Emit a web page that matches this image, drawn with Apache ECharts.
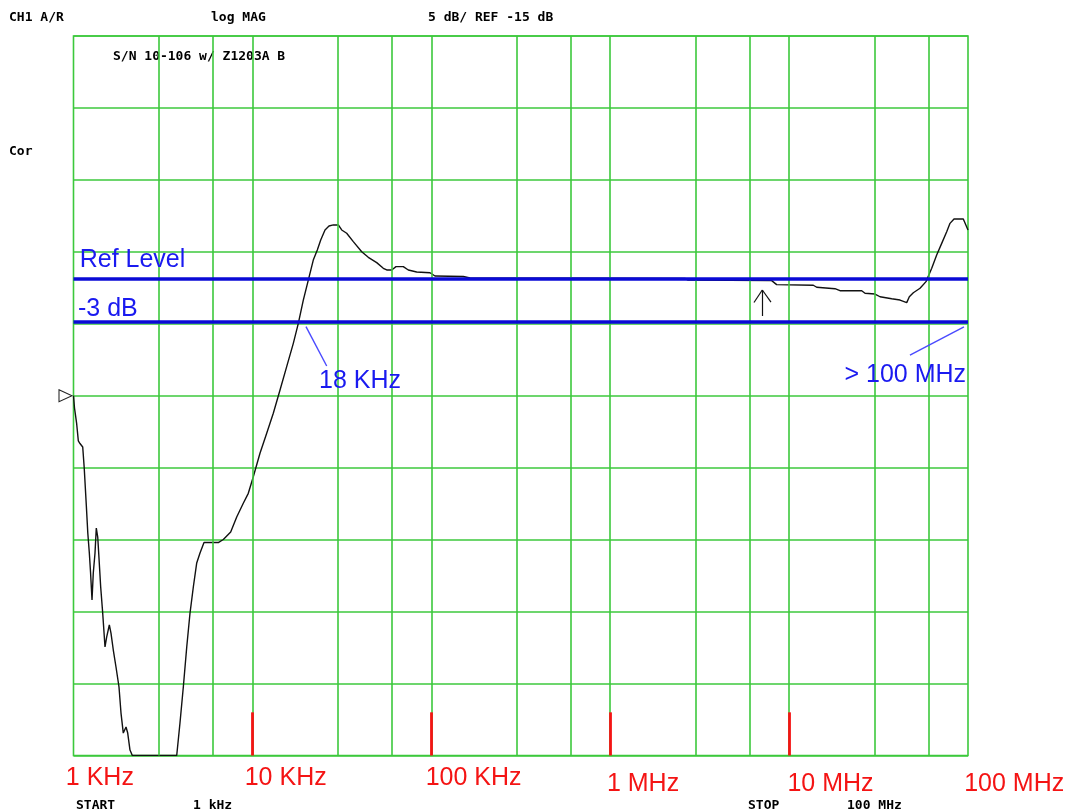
<!DOCTYPE html>
<html>
<head>
<meta charset="utf-8">
<script src="https://cdn.jsdelivr.net/npm/echarts@6/dist/echarts.min.js"></script>
<style>
html,body{margin:0;padding:0;background:#fff;}
#chart{width:1071px;height:812px;}
</style>
</head>
<body>
<div id="chart"></div>
<script>
// ---- data ----
const traceFreqHz = [1000,1013,1042,1064,1087,1126,1148,1179,1202,1226,1245,1269,1290,1319,1341,1366,1383,1419,1456,1500,1533,1586,1620,1669,1728,1796,1843,1898,1966,2009,2069,2132,3775,3937,4110,4295,4480,4675,4884,5095,5364,6448,6876,7562,8172,8893,9486,10116,11026,12021,13087,14269,15547,16932,18058,19256,20535,21894,23054,24093,25460,26803,28330,30216,31565,33660,36644,40832,44445,49528,53918,56330,60080,63489,69745,74378,82860,98330,104880,151000,164600,2618000,2722000,7991000,8520000,13655000,14266000,18050000,19250000,25460000,26570000,30210000,32220000,37460000,41690000,45450000,46990000,49470000,53930000,58250000,62690000,66830000,71290000,76020000,79330000,83510000,94130000,100000000];
const traceDb = [-15.0,-15.85,-16.96,-18.14,-18.32,-18.56,-20.02,-22.59,-24.54,-25.93,-27.25,-29.19,-27.32,-25.93,-24.19,-24.82,-25.93,-28.29,-30.10,-32.46,-31.76,-30.93,-31.49,-32.67,-33.85,-35.24,-37.05,-38.44,-38.02,-38.44,-39.62,-40,-40,-37.74,-35.24,-32.46,-30.10,-28.29,-26.62,-25.93,-25.20,-25.20,-24.99,-24.47,-23.43,-22.47,-21.78,-20.63,-19.0,-17.61,-16.22,-14.60,-12.98,-11.36,-9.97,-8.35,-6.96,-5.57,-4.87,-4.18,-3.48,-3.20,-3.13,-3.13,-3.48,-3.71,-4.29,-4.99,-5.38,-5.75,-6.14,-6.26,-6.26,-6.03,-6.03,-6.26,-6.40,-6.45,-6.68,-6.71,-6.82,-6.85,-6.96,-7.0,-7.28,-7.32,-7.46,-7.56,-7.70,-7.70,-7.88,-7.93,-8.12,-8.26,-8.35,-8.53,-8.12,-7.84,-7.53,-7.07,-6.14,-5.22,-4.41,-3.60,-3.02,-2.72,-2.72,-3.48];

const yMin = -40, yMax = 10, yStep = 5;
const refDb = -15;
const refLevelDb = -6.84;
const minus3Db = -9.87;
const gridFreqs = [3e3,6e3,1e4,3e4,6e4,1e5,3e5,6e5,1e6,3e6,6e6,1e7,3e7,6e7];
const decadeFreqs = [1e3,1e4,1e5,1e6,1e7,1e8];
const decadeLabels = ['1 KHz','10 KHz','100 KHz','1 MHz','10 MHz','100 MHz'];
const redTickFreqs = [1e4,1e5,1e6,1e7];
const redTickTopDb = -37;

const noteTexts = ['Ref Level','-3 dB','18 KHz','> 100 MHz'];
const noteFreqs = [1083,1060,23560,20400000];
const noteDb = [-5.60,-8.97,-13.96,-13.58];
const pointer18k = [[19930,-10.20],[26020,-12.93]];
const pointer100M = [[47380000,-12.17],[94940000,-10.22]];
const markerArrowFreq = 7083000;
const markerArrowDb = [-9.46,-7.65];
const markerArrowHead = [[6364000,-8.52],[7920000,-8.49]];

// ---- layout/style (not data) ----
const GREEN = '#3cc83c';
const BLUE_LINE = '#0a0ad6';
const BLUE_TEXT = '#1a1af0';
const RED = '#f41414';
const labelDx = [-7.7,-7.7,-5.6,-3.3,-1.7,-3.8];
const labelDy = [22.8,22.8,22.8,28.8,28.8,28.8];
const monoFont = 'bold 13px "DejaVu Sans Mono", monospace';

const chart = echarts.init(document.getElementById('chart'), null, {renderer:'canvas'});

const lineMark = (color, width) => ({silent:true, symbol:['none','none'], label:{show:false}, lineStyle:{color, width, type:'solid', opacity:1}, emphasis:{disabled:true}, animation:false});
const hdr = (x, y, text) => ({type:'text', x, y, style:{text, font:monoFont, fill:'#000', textVerticalAlign:'middle', verticalAlign:'middle'}});

const option = {
  animation:false,
  backgroundColor:'#ffffff',
  grid:{left:73.5, right:103, top:36, bottom:56.5, show:true, borderColor:GREEN, borderWidth:1.6, backgroundColor:'transparent'},
  xAxis:{type:'log', logBase:10, min:1e3, max:1e8, axisLine:{show:false}, axisTick:{show:false}, axisLabel:{show:false}, splitLine:{show:false}},
  yAxis:{type:'value', min:yMin, max:yMax, interval:yStep, axisLine:{show:false}, axisTick:{show:false}, axisLabel:{show:false}, splitLine:{show:true, lineStyle:{color:GREEN, width:1.6}}},
  graphic:[
    hdr(9,18,'CH1 A/R'), hdr(211,18,'log MAG'), hdr(428,18,'5 dB/ REF -15 dB'),
    hdr(113,57,'S/N 10-106 w/ Z1203A B'), hdr(9,152,'Cor'),
    hdr(76,806,'START'), hdr(193,806,'1 kHz'), hdr(748,806,'STOP'), hdr(847,806,'100 MHz')
  ],
  series:[
    { // vertical grid lines
      type:'line', data:[], z:1, silent:true,
      markLine:Object.assign(lineMark(GREEN,1.6), {data:gridFreqs.map(f=>({xAxis:f}))})
    },
    { // red decade ticks
      type:'line', data:[], z:2, silent:true,
      markLine:Object.assign(lineMark(RED,2.8), {data:redTickFreqs.map(f=>[{coord:[f,yMin]},{coord:[f,redTickTopDb]}])})
    },
    { // measured trace
      type:'line', name:'trace', z:3, silent:true,
      data:traceFreqHz.map((f,i)=>[f,traceDb[i]]),
      showSymbol:false, symbol:'none', smooth:false,
      lineStyle:{color:'#111', width:1.4, opacity:1},
      markPoint:{silent:true, animation:false, symbol:'path://M0,0 L13,6 L0,12 Z', symbolSize:[13,12], symbolOffset:[-8,0],
        itemStyle:{color:'#ffffff', borderColor:'#222', borderWidth:1, opacity:1}, label:{show:false},
        data:[{coord:[1e3,refDb]}]}
    },
    { // marker arrow
      type:'line', data:[], z:4, silent:true,
      markLine:Object.assign(lineMark('#111',1.2), {data:[
        [{coord:[markerArrowFreq,markerArrowDb[0]]},{coord:[markerArrowFreq,markerArrowDb[1]]}],
        [{coord:[markerArrowFreq,markerArrowDb[1]]},{coord:markerArrowHead[0]}],
        [{coord:[markerArrowFreq,markerArrowDb[1]]},{coord:markerArrowHead[1]}]
      ]})
    },
    { // reference lines
      type:'line', data:[], z:5, silent:true,
      markLine:Object.assign(lineMark(BLUE_LINE,3.6), {data:[{yAxis:refLevelDb},{yAxis:minus3Db}]})
    },
    { // pointer lines
      type:'line', data:[], z:5, silent:true,
      markLine:Object.assign(lineMark('#4a4aff',1.4), {data:[
        [{coord:pointer18k[0]},{coord:pointer18k[1]}],
        [{coord:pointer100M[0]},{coord:pointer100M[1]}]
      ]})
    },
    { // blue annotation texts
      type:'scatter', z:6, silent:true, clip:false, symbolSize:0,
      itemStyle:{opacity:1},
      data:noteTexts.map((t,i)=>({value:[noteFreqs[i],noteDb[i]], name:t})),
      label:{show:true, opacity:1, position:'inside', align:'left', verticalAlign:'middle', formatter:p=>p.name,
        color:BLUE_TEXT, fontFamily:'"Liberation Sans", Arial, sans-serif', fontSize:25}
    },
    { // decade labels
      type:'scatter', z:6, silent:true, clip:false, symbolSize:0,
      itemStyle:{opacity:1},
      data:decadeFreqs.map((f,i)=>({value:[f,yMin], name:decadeLabels[i],
        label:{offset:[labelDx[i],labelDy[i]]}})),
      label:{show:true, opacity:1, position:'inside', align:'left', verticalAlign:'middle', formatter:p=>p.name,
        color:RED, fontFamily:'"Liberation Sans", Arial, sans-serif', fontSize:25}
    }
  ]
};
chart.setOption(option);
</script>
</body>
</html>
